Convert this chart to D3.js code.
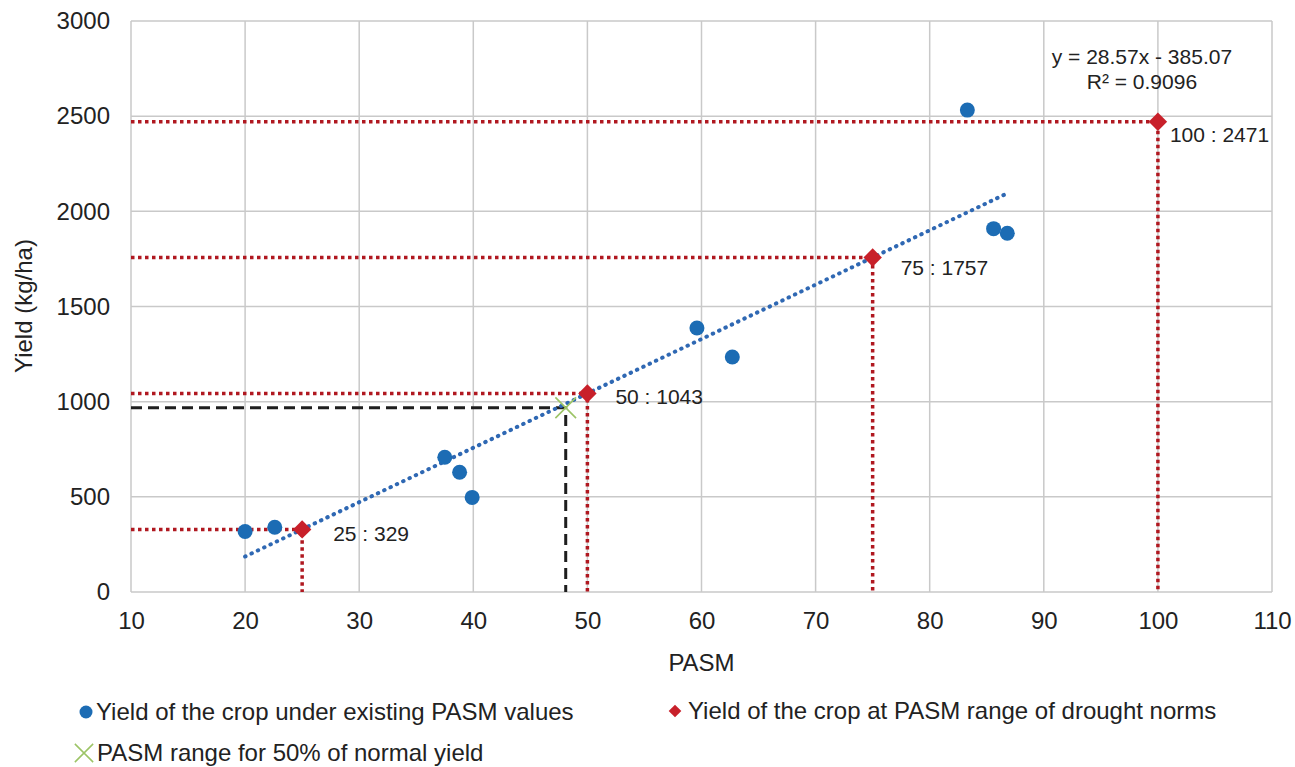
<!DOCTYPE html>
<html lang="en">
<head>
    <meta charset="UTF-8">
    <title>Yield vs PASM</title>
    <script src="https://d3js.org/d3.v7.min.js"></script>
    <style>
        body { margin: 0; background: #fff; }
        svg text { font-family: "Liberation Sans", Arial, Helvetica, sans-serif; fill: #222; }
    </style>
</head>
<body>
    <div id="chart"></div>

    <script>
        // observed points
        const pasmObserved = [20, 22.6, 37.5, 38.8, 39.9, 59.6, 62.7, 83.3, 85.6, 86.8];
        const yieldObserved = [318, 340, 708, 629, 497, 1387, 1235, 2532, 1909, 1885];

        // drought norm points
        const normPasm = [25, 50, 75, 100];
        const normYield = [329, 1043, 1757, 2471];
        const normLabels = ["25 : 329", "50 : 1043", "75 : 1757", "100 : 2471"];

        // 50% of normal yield
        const halfPasm = [48.1];
        const halfYield = [968];

        // linear trend shown on the chart
        const trendSlope = 28.57, trendIntercept = -385.07;
        const trendExtent = [20, 87];
        const trendText = ["y = 28.57x - 385.07", "R² = 0.9096"];

        const xTicks = [10, 20, 30, 40, 50, 60, 70, 80, 90, 100, 110];
        const yTicks = [0, 500, 1000, 1500, 2000, 2500, 3000];

        const legendLabels = [
            "Yield of the crop under existing PASM values",
            "Yield of the crop at PASM range of drought norms",
            "PASM range for 50% of normal yield"
        ];

        const W = 1295, H = 767;
        const margin = {top: 21, right: 23, bottom: 175, left: 131};
        const width = W - margin.left - margin.right,
              height = H - margin.top - margin.bottom;

        const red = "#b01820", blue = "#1c6cb4", green = "#9cc466";

        const svg = d3.select("#chart").append("svg")
            .attr("width", W)
            .attr("height", H);

        const g = svg.append("g")
            .attr("transform", `translate(${margin.left},${margin.top})`);

        const x = d3.scaleLinear().domain([10, 110]).range([0, width]);
        const y = d3.scaleLinear().domain([0, 3000]).range([height, 0]);

        // grid + frame
        g.append("g")
            .selectAll("line")
            .data(xTicks)
            .join("line")
            .attr("x1", d => x(d)).attr("x2", d => x(d))
            .attr("y1", 0).attr("y2", height)
            .attr("stroke", "#c9c9c9").attr("stroke-width", 1.5);

        g.append("g")
            .selectAll("line")
            .data(yTicks)
            .join("line")
            .attr("x1", 0).attr("x2", width)
            .attr("y1", d => y(d)).attr("y2", d => y(d))
            .attr("stroke", "#c9c9c9").attr("stroke-width", 1.5);

        // axes (labels only)
        const xAxis = g.append("g")
            .attr("transform", `translate(0,${height})`)
            .call(d3.axisBottom(x).tickValues(xTicks).tickSize(0).tickPadding(20));
        const yAxis = g.append("g")
            .call(d3.axisLeft(y).tickValues(yTicks).tickFormat(d3.format("d")).tickSize(0).tickPadding(21));
        [xAxis, yAxis].forEach(a => {
            a.select(".domain").remove();
            a.selectAll("text").attr("font-size", 24).attr("fill", "#222")
                .style("font-family", '"Liberation Sans", Arial, sans-serif');
        });

        // red dotted guide lines to the drought norm points
        const norms = normPasm.map((p, i) => ({p, v: normYield[i], label: normLabels[i]}));
        const guides = g.append("g")
            .attr("fill", "none")
            .attr("stroke", red)
            .attr("stroke-width", 3.5)
            .attr("stroke-dasharray", "3.5,3.5");
        guides.selectAll("path")
            .data(norms)
            .join("path")
            .attr("d", d => `M${x(10)},${y(d.v)}H${x(d.p)}V${y(0)}`);

        // black dashed guide for 50% yield
        g.append("path")
            .datum({p: halfPasm[0], v: halfYield[0]})
            .attr("d", d => `M${x(10)},${y(d.v)}H${x(d.p)}V${y(0)}`)
            .attr("fill", "none")
            .attr("stroke", "#1e1e1e")
            .attr("stroke-width", 3)
            .attr("stroke-dasharray", "11,6");

        // trend line
        const line = d3.line().x(d => x(d)).y(d => y(trendSlope * d + trendIntercept));
        g.append("path")
            .datum(trendExtent)
            .attr("d", line)
            .attr("fill", "none")
            .attr("stroke", "#2f68b3")
            .attr("stroke-width", 4)
            .attr("stroke-dasharray", "0.5,6.5")
            .attr("stroke-linecap", "round");

        // observed points
        g.append("g")
            .selectAll("circle")
            .data(pasmObserved.map((p, i) => [p, yieldObserved[i]]))
            .join("circle")
            .attr("cx", d => x(d[0]))
            .attr("cy", d => y(d[1]))
            .attr("r", 7.5)
            .attr("fill", blue);

        // diamonds
        const diamond = d3.symbol().type(d3.symbolSquare).size(170);
        g.append("g")
            .selectAll("path")
            .data(norms)
            .join("path")
            .attr("d", diamond)
            .attr("transform", d => `translate(${x(d.p)},${y(d.v)}) rotate(45)`)
            .attr("fill", "#c8202a");

        // green cross
        const cross = d3.symbol().type(d3.symbolTimes).size(280);
        g.append("g")
            .selectAll("path")
            .data(halfPasm.map((p, i) => [p, halfYield[i]]))
            .join("path")
            .attr("d", cross)
            .attr("transform", d => `translate(${x(d[0])},${y(d[1])})`)
            .attr("fill", "none")
            .attr("stroke", green)
            .attr("stroke-width", 1.6);

        // point labels
        const labelOffset = [[31, 4], [28, 3], [28, 10], [12, 13]];
        g.append("g")
            .selectAll("text")
            .data(norms)
            .join("text")
            .attr("x", (d, i) => x(d.p) + labelOffset[i][0])
            .attr("y", (d, i) => y(d.v) + labelOffset[i][1])
            .attr("dy", "0.35em")
            .attr("font-size", 21)
            .text(d => d.label);

        // equation
        g.append("g")
            .selectAll("text")
            .data(trendText)
            .join("text")
            .attr("x", x(98.6))
            .attr("y", (d, i) => 36 + i * 25)
            .attr("dy", "0.35em")
            .attr("text-anchor", "middle")
            .attr("font-size", 21)
            .text(d => d);

        // axis titles
        svg.append("text")
            .attr("x", margin.left + width / 2)
            .attr("y", 663)
            .attr("dy", "0.35em")
            .attr("text-anchor", "middle")
            .attr("font-size", 24)
            .text("PASM");

        svg.append("text")
            .attr("transform", "translate(24,306) rotate(-90)")
            .attr("dy", "0.35em")
            .attr("text-anchor", "middle")
            .attr("font-size", 24)
            .text("Yield (kg/ha)");

        // legend
        const legend = svg.append("g");
        legend.append("circle").attr("cx", 86).attr("cy", 712).attr("r", 6.5).attr("fill", blue);
        legend.append("path").attr("d", d3.symbol().type(d3.symbolSquare).size(80))
            .attr("transform", "translate(675,711) rotate(45)").attr("fill", "#c8202a");
        legend.append("path").attr("d", d3.symbol().type(d3.symbolTimes).size(220))
            .attr("transform", "translate(84,753)")
            .attr("fill", "none").attr("stroke", green).attr("stroke-width", 1.5);
        legend.selectAll("text")
            .data(legendLabels)
            .join("text")
            .attr("x", (d, i) => [96, 688, 97][i])
            .attr("y", (d, i) => [712, 711, 753][i])
            .attr("dy", "0.35em")
            .attr("font-size", 24)
            .text(d => d);
    </script>
</body>
</html>
